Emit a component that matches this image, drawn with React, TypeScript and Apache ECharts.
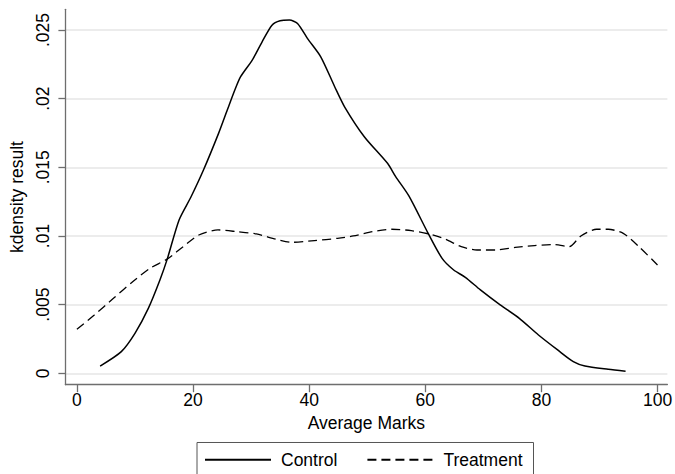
import React, { useEffect, useRef } from "react";
import * as echarts from "echarts";

const controlX = [4.0, 7.65, 10.0, 12.3, 14.3, 15.6, 17.6, 19.6, 21.8, 24.4, 25.9, 27.2, 28.2, 30.2, 31.9, 33.6, 35.0, 36.6, 38.0, 39.7, 42.0, 44.4, 46.1, 49.5, 53.5, 54.9, 57.2, 60.5, 62.9, 64.9, 66.9, 69.5, 72.9, 76.2, 79.5, 82.8, 85.5, 87.5, 91.5, 94.5];
const controlY = [0.00053, 0.00158, 0.00291, 0.00473, 0.0068, 0.00837, 0.01117, 0.0128, 0.0148, 0.01747, 0.01917, 0.02063, 0.0216, 0.02281, 0.02414, 0.02535, 0.02567, 0.02572, 0.02548, 0.02439, 0.02305, 0.02087, 0.01941, 0.01723, 0.01529, 0.01432, 0.0129, 0.01019, 0.00837, 0.00752, 0.00699, 0.00607, 0.00498, 0.004, 0.00279, 0.0017, 0.00085, 0.00053, 0.00029, 0.00015];

const treatX = [0, 3.0, 6.3, 9.6, 12.6, 15.6, 18.3, 21.0, 24.3, 27.6, 30.9, 34.3, 36.9, 40.9, 44.9, 47.6, 50.9, 54.2, 57.6, 60.9, 63.5, 66.2, 68.9, 72.2, 75.5, 78.8, 82.2, 84.8, 86.8, 89.5, 91.5, 94.1, 96.8, 100];
const treatY = [0.0032, 0.00425, 0.00546, 0.00667, 0.00765, 0.00833, 0.00922, 0.01007, 0.01044, 0.01031, 0.01015, 0.00976, 0.00954, 0.00966, 0.00983, 0.01, 0.01032, 0.01049, 0.01039, 0.01012, 0.00976, 0.00922, 0.00898, 0.00898, 0.00917, 0.0093, 0.00937, 0.00922, 0.01, 0.01049, 0.01049, 0.01019, 0.00922, 0.00789];

const xTicks = [0, 20, 40, 60, 80, 100];
const yTicks = [0, 0.005, 0.01, 0.015, 0.02, 0.025];

const seriesNames = ["Control", "Treatment"];
const xTitle = "Average Marks";
const yTitle = "kdensity result";

const FONT = "'Liberation Sans', Arial, Helvetica, sans-serif";
const FS = 17.5;

export default function App() {
  const ref = useRef<HTMLDivElement>(null);
  useEffect(() => {
    if (!ref.current) return;
    const chart = echarts.init(ref.current, undefined, { renderer: "svg" });
    const axisColor = "#6e6e6e";
    chart.setOption({
      animation: false,
      backgroundColor: "#ffffff",
      textStyle: { fontFamily: FONT, color: "#000" },
      grid: { left: 59, right: 5, top: 9.3, bottom: 89.3, containLabel: false },
      xAxis: {
        type: "value",
        min: -1.98,
        max: 101.7,
        name: xTitle,
        nameLocation: "middle",
        nameGap: 29,
        nameTextStyle: { fontFamily: FONT, fontSize: FS, color: "#000" },
        axisLine: { show: true, onZero: false, lineStyle: { color: axisColor, width: 1.3 } },
        axisTick: { show: true, length: 7.5, customValues: xTicks, lineStyle: { color: axisColor, width: 1.3 } },
        axisLabel: { customValues: xTicks, margin: 6.5, fontFamily: FONT, fontSize: FS, color: "#000" },
        splitLine: { show: false },
      },
      yAxis: {
        type: "value",
        min: -0.00083,
        max: 0.026507,
        name: yTitle,
        nameLocation: "middle",
        nameGap: 31,
        nameTextStyle: { fontFamily: FONT, fontSize: FS, color: "#000" },
        axisLine: { show: true, onZero: false, lineStyle: { color: axisColor, width: 1.3 } },
        axisTick: { show: true, length: 7, customValues: yTicks, lineStyle: { color: axisColor, width: 1.3 } },
        axisLabel: {
          customValues: yTicks,
          rotate: 90,
          margin: 13.5,
          fontFamily: FONT,
          fontSize: FS,
          color: "#000",
          formatter: (v: number) => (v === 0 ? "0" : String(+v.toFixed(4)).replace(/^0\./, ".")),
        },
        splitLine: { show: true, lineStyle: { color: "#e6e6e6", width: 1.5 } },
      },
      legend: {
        left: 197,
        top: 442.5,
        orient: "horizontal",
        selectedMode: false,
        borderColor: "#555",
        borderWidth: 1,
        padding: [8.3, 11, 8, 7],
        itemWidth: 66,
        itemHeight: 18,
        itemGap: 29,
        itemStyle: { opacity: 0 },
        textStyle: { fontFamily: FONT, fontSize: FS, color: "#000", padding: [0, 0, 0, 5] },
        data: seriesNames,
      },
      series: [
        {
          name: seriesNames[0],
          type: "line",
          data: controlX.map((x, i) => [x, controlY[i]]),
          symbol: "none",
          smooth: 0.25,
          clip: false,
          lineStyle: { color: "#000", width: 1.5, type: "solid" },
          itemStyle: { color: "#000" },
        },
        {
          name: seriesNames[1],
          type: "line",
          data: treatX.map((x, i) => [x, treatY[i]]),
          symbol: "none",
          smooth: 0.25,
          clip: false,
          lineStyle: { color: "#000", width: 1.3, type: [9, 5] },
          itemStyle: { color: "#000" },
        },
      ],
    });
    return () => chart.dispose();
  }, []);
  return <div ref={ref} style={{ position: "absolute", left: 0, top: 0, width: 675, height: 474 }} />;
}
